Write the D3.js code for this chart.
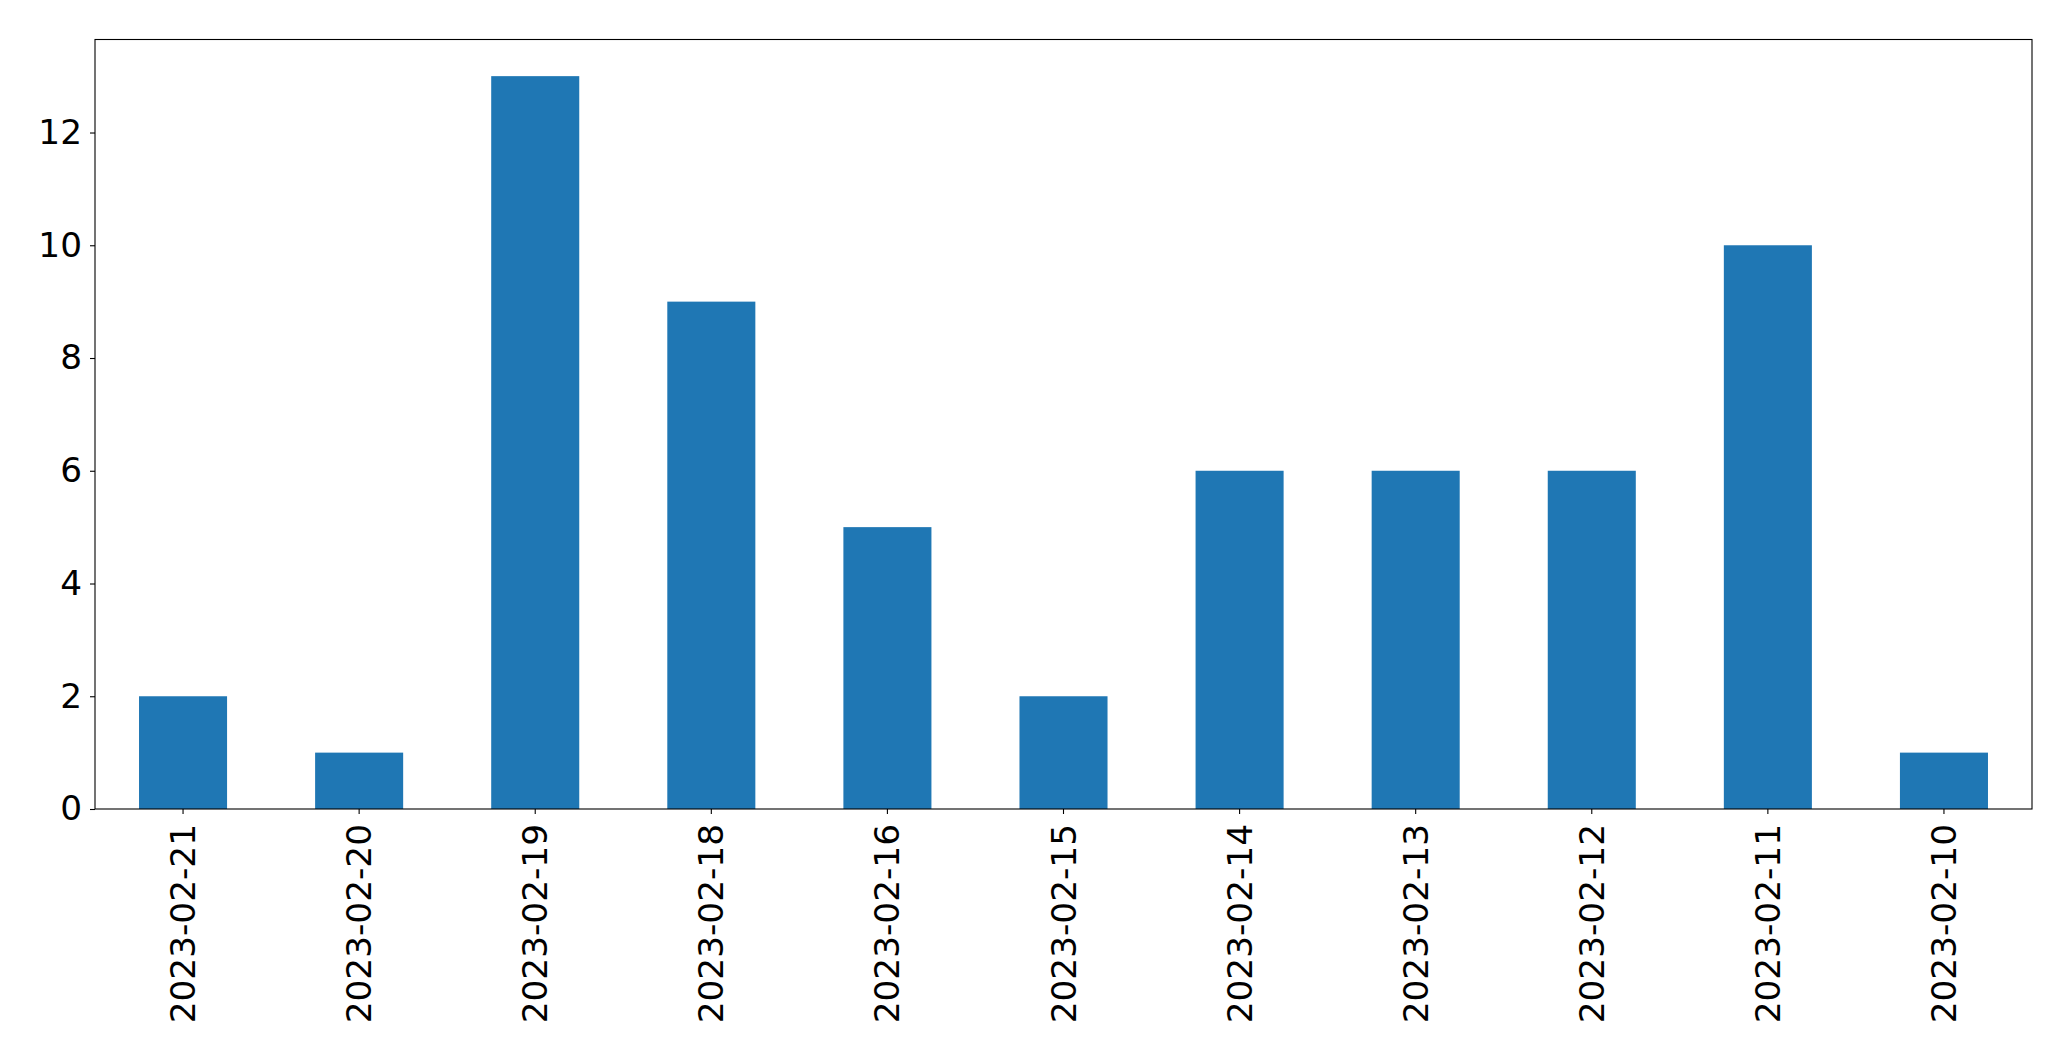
<!DOCTYPE html>
<html>
<head>
<meta charset="utf-8">
<script src="https://cdn.jsdelivr.net/npm/d3@7"></script>
<style>
  html, body { margin: 0; padding: 0; background: #fff; }
  svg { display: block; }
  text { font-family: "DejaVu Sans", sans-serif; fill: #000; }
</style>
</head>
<body>
<svg id="chart" width="2071" height="1061"></svg>
<script>
const categories = ["2023-02-21","2023-02-20","2023-02-19","2023-02-18","2023-02-16","2023-02-15","2023-02-14","2023-02-13","2023-02-12","2023-02-11","2023-02-10"];
const values = [2, 1, 13, 9, 5, 2, 6, 6, 6, 10, 1];
const yTicks = [0, 2, 4, 6, 8, 10, 12];

const W = 2071, H = 1061;
const margin = { left: 95, right: W - 2032, top: 39.5, bottom: H - 809 };
const svg = d3.select("#chart");
const iw = W - margin.left - margin.right;
const ih = H - margin.top - margin.bottom;
const g = svg.append("g").attr("transform", `translate(${margin.left},${margin.top})`);

const x = d3.scaleBand().domain(categories).range([0, iw]).paddingInner(0.5).paddingOuter(0.25);
const y = d3.scaleLinear().domain([0, 13 * 1.05]).range([ih, 0]);

g.selectAll("rect.bar").data(values).enter().append("rect")
  .attr("class", "bar")
  .attr("x", (d, i) => x(categories[i]))
  .attr("width", x.bandwidth())
  .attr("y", d => y(d))
  .attr("height", d => ih - y(d))
  .attr("fill", "#1f77b4");

const fs = 34.3;
// y axis
const yAxis = g.append("g").call(d3.axisLeft(y).tickValues(yTicks).tickSize(5).tickPadding(8).tickFormat(d3.format("d")));
yAxis.select(".domain").remove();
yAxis.selectAll("line").attr("stroke", "#000").attr("stroke-width", 1.1);
yAxis.selectAll("text").style("font-size", fs + "px").attr("font-family", "DejaVu Sans");

// x axis
const xAxis = g.append("g").attr("transform", `translate(0,${ih})`)
  .call(d3.axisBottom(x).tickSize(5).tickPadding(8));
xAxis.select(".domain").remove();
xAxis.selectAll("line").attr("stroke", "#000").attr("stroke-width", 1.1);
xAxis.selectAll("text")
  .style("font-size", fs + "px")
  .attr("font-family", "DejaVu Sans")
  .attr("text-anchor", "end")
  .attr("dy", "0.35em")
  .attr("transform", "translate(0,15) rotate(-90)")
  .attr("x", 0).attr("y", 0);

// frame
g.append("rect").attr("x", 0).attr("y", 0).attr("width", iw).attr("height", ih)
  .attr("fill", "none").attr("stroke", "#000").attr("stroke-width", 1.1);
</script>
</body>
</html>
